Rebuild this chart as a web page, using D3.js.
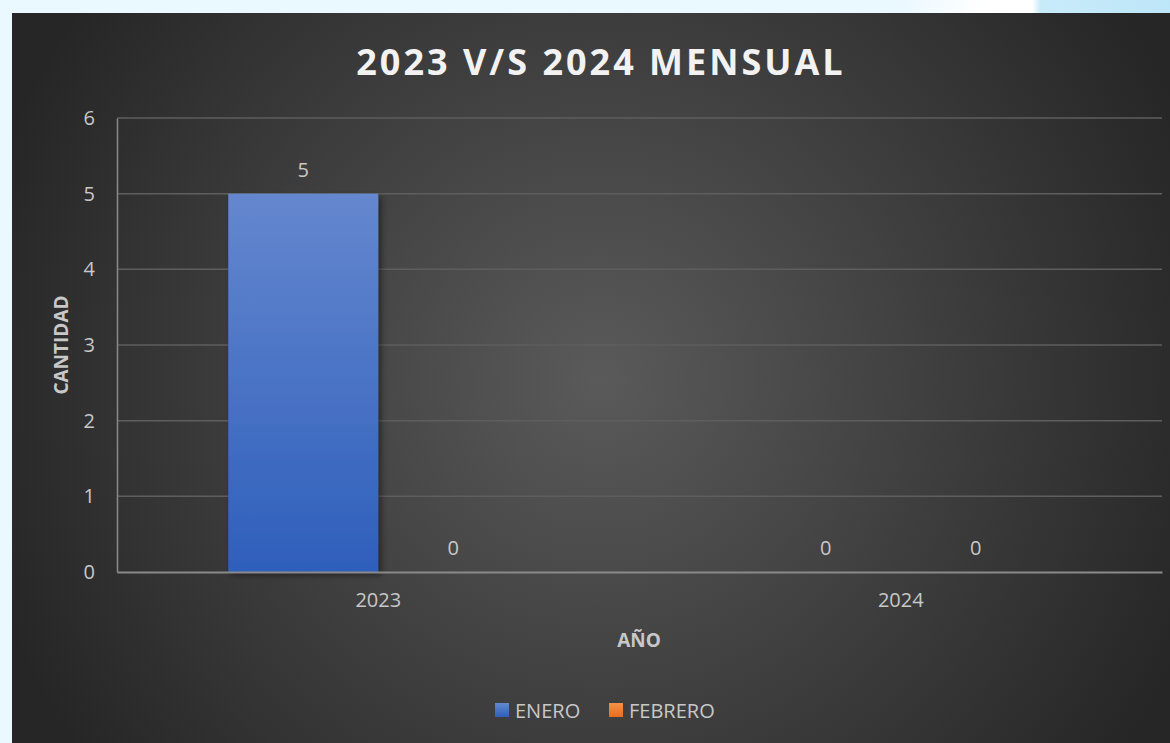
<!DOCTYPE html>
<html>
<head>
<meta charset="utf-8">
<script src="https://cdn.jsdelivr.net/npm/d3@7"></script>
<style>
body { margin: 0; background: #eaf8ff; overflow: hidden; }
svg { display: block; }
</style>
</head>
<body>
<script>
var years = ["2023", "2024"];
var months = ["ENERO", "FEBRERO"];
var enero = [5, 0];
var febrero = [0, 0];
var yTicks = [0, 1, 2, 3, 4, 5, 6];

var svgW = 1170, svgH = 743;

var data = years.map(function(y, i) {
    return { year: y, values: [ { m: "ENERO", v: enero[i] }, { m: "FEBRERO", v: febrero[i] } ] };
});

var svg = d3.select("body").append("svg")
    .attr("width", svgW)
    .attr("height", svgH);

var defs = svg.append("defs");
var bg = defs.append("radialGradient").attr("id", "bg")
    .attr("gradientUnits", "userSpaceOnUse")
    .attr("cx", 600).attr("cy", 380).attr("r", 640);
bg.append("stop").attr("offset", "0%").attr("stop-color", "#5a5a5a");
bg.append("stop").attr("offset", "100%").attr("stop-color", "#262626");

var barGrad = defs.append("linearGradient").attr("id", "barBlue")
    .attr("x1", 0).attr("y1", 0).attr("x2", 0).attr("y2", 1);
barGrad.append("stop").attr("offset", "0%").attr("stop-color", "#6587cf");
barGrad.append("stop").attr("offset", "100%").attr("stop-color", "#2e5fbb");

var orGrad = defs.append("linearGradient").attr("id", "barOrange")
    .attr("x1", 0).attr("y1", 0).attr("x2", 0).attr("y2", 1);
orGrad.append("stop").attr("offset", "0%").attr("stop-color", "#f3914d");
orGrad.append("stop").attr("offset", "100%").attr("stop-color", "#e86d1c");

var shadow = defs.append("filter").attr("id", "shadow")
    .attr("x", "-10%").attr("y", "-10%").attr("width", "130%").attr("height", "130%");
shadow.append("feDropShadow").attr("dx", 3).attr("dy", 3).attr("stdDeviation", 3)
    .attr("flood-color", "#000").attr("flood-opacity", 0.45);

// decoration top right
var deco = defs.append("linearGradient").attr("id", "deco")
    .attr("x1", 0).attr("y1", 0).attr("x2", 1).attr("y2", 0);
deco.append("stop").attr("offset", "0%").attr("stop-color", "#eaf8ff");
deco.append("stop").attr("offset", "30%").attr("stop-color", "#ffffff");
deco.append("stop").attr("offset", "49%").attr("stop-color", "#ffffff");
deco.append("stop").attr("offset", "52%").attr("stop-color", "#c8ebfa");
deco.append("stop").attr("offset", "100%").attr("stop-color", "#bde6f8");
svg.append("rect").attr("x", 900).attr("y", 0).attr("width", 270).attr("height", 13)
    .attr("fill", "url(#deco)");

// chart background
svg.append("rect")
    .attr("x", 12).attr("y", 13)
    .attr("width", svgW - 12).attr("height", svgH - 13)
    .attr("fill", "url(#bg)");

var margin = { left: 117, right: 1162, top: 118, bottom: 572 };

var x0 = d3.scaleBand()
    .domain(years)
    .range([margin.left, margin.right]);

var x1 = d3.scaleBand()
    .domain(months)
    .range([0, 300]);

var y = d3.scaleLinear()
    .domain([0, 6])
    .range([margin.bottom, margin.top]);

// gridlines
svg.append("g")
    .selectAll("line")
    .data(yTicks.filter(function(d) { return d > 0; }))
    .enter().append("line")
    .attr("x1", margin.left).attr("x2", margin.right)
    .attr("y1", function(d) { return y(d); })
    .attr("y2", function(d) { return y(d); })
    .attr("stroke", "#5e5e5e")
    .attr("stroke-width", 1.5);

// y axis
var yAxis = d3.axisLeft(y).tickValues(yTicks).tickFormat(d3.format("d")).tickSize(0).tickPadding(22);
var gy = svg.append("g")
    .attr("transform", "translate(" + margin.left + ",0)")
    .call(yAxis);
gy.select(".domain").attr("stroke", "#8a8a8a").attr("stroke-width", 1.5);
gy.selectAll("text")
    .attr("fill", "#c8c8c8")
    .style("font-family", "'Open Sans', sans-serif")
    .style("font-size", "20px");

// bars
var groups = svg.append("g").selectAll("g")
    .data(data)
    .enter().append("g")
    .attr("transform", function(d) {
        return "translate(" + (x0(d.year) + (x0.bandwidth() - 300) / 2) + ",0)";
    });

groups.selectAll("rect")
    .data(function(d) { return d.values.filter(function(v) { return v.v > 0; }); })
    .enter().append("rect")
    .attr("x", function(d) { return x1(d.m); })
    .attr("width", x1.bandwidth())
    .attr("y", function(d) { return y(d.v); })
    .attr("height", function(d) { return y(0) - y(d.v); })
    .attr("fill", function(d) { return d.m === "ENERO" ? "url(#barBlue)" : "url(#barOrange)"; })
    .attr("filter", "url(#shadow)");

groups.selectAll("text")
    .data(function(d) { return d.values; })
    .enter().append("text")
    .attr("x", function(d) { return x1(d.m) + x1.bandwidth() / 2; })
    .attr("y", function(d) { return y(d.v) - 17; })
    .attr("text-anchor", "middle")
    .attr("fill", "#c8c8c8")
    .style("font-family", "'Open Sans', sans-serif")
    .style("font-size", "20px")
    .text(function(d) { return d.v; });

// x axis
var xAxis = d3.axisBottom(x0).tickSize(0).tickPadding(21);
var gx = svg.append("g")
    .attr("transform", "translate(0," + margin.bottom + ")")
    .call(xAxis);
gx.select(".domain").attr("stroke", "#8a8a8a").attr("stroke-width", 2);
gx.selectAll("text")
    .attr("fill", "#c8c8c8")
    .style("font-family", "'Open Sans', sans-serif")
    .style("font-size", "20px");

// title
svg.append("text")
    .attr("x", 601).attr("y", 75)
    .attr("text-anchor", "middle")
    .attr("fill", "#f2f2f2")
    .style("font-family", "'Open Sans', sans-serif")
    .style("font-weight", "bold")
    .style("font-size", "36px")
    .style("letter-spacing", "3px")
    .text("2023 V/S 2024 MENSUAL");

// axis titles
svg.append("text")
    .attr("transform", "translate(68,345) rotate(-90)")
    .attr("text-anchor", "middle")
    .attr("fill", "#c8c8c8")
    .style("font-family", "'Open Sans', sans-serif")
    .style("font-weight", "bold")
    .style("font-size", "19px")
    .text("CANTIDAD");

svg.append("text")
    .attr("x", 639).attr("y", 647)
    .attr("text-anchor", "middle")
    .attr("fill", "#c8c8c8")
    .style("font-family", "'Open Sans', sans-serif")
    .style("font-weight", "bold")
    .style("font-size", "19px")
    .text("AÑO");

// legend
var legendX = [495, 609];
var legend = svg.append("g").selectAll("g")
    .data(months)
    .enter().append("g")
    .attr("transform", function(d, i) { return "translate(" + legendX[i] + ",703)"; });
legend.append("rect")
    .attr("width", 14).attr("height", 14)
    .attr("fill", function(d) { return d === "ENERO" ? "url(#barBlue)" : "url(#barOrange)"; });
legend.append("text")
    .attr("x", 20).attr("y", 15)
    .attr("fill", "#c8c8c8")
    .style("font-family", "'Open Sans', sans-serif")
    .style("font-size", "20px")
    .text(function(d) { return d; });
</script>
</body>
</html>
